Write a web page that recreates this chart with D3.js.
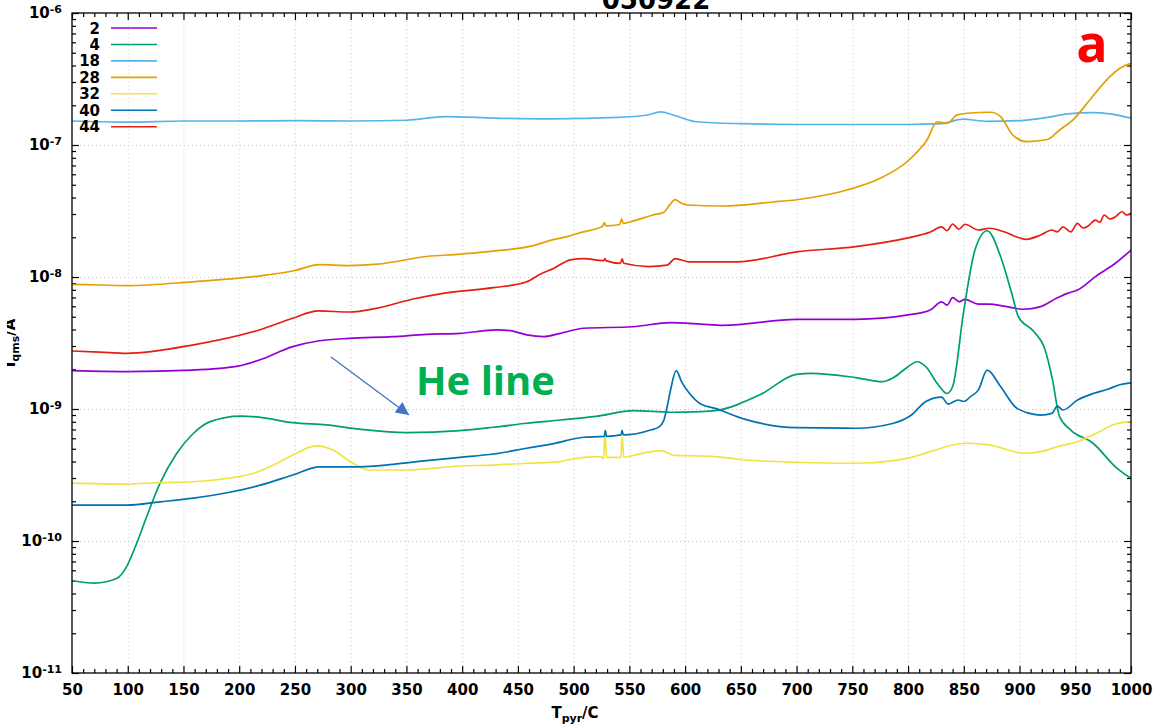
<!DOCTYPE html>
<html><head><meta charset="utf-8">
<script src="https://cdn.jsdelivr.net/npm/d3@7"></script>
<style>body{margin:0;background:#fff}svg{display:block}</style>
</head><body><svg id="c" width="1155" height="727"></svg>
<script>
const seriesNames = ["2","4","18","28","32","40","44"];
const seriesColors = ["#9400d3","#009e73","#56b4e9","#e69f00","#f0e442","#0072b2","#e51e10"];
const xTickValues = [50,100,150,200,250,300,350,400,450,500,550,600,650,700,750,800,850,900,950,1000];
const yDecades = [1e-11,1e-10,1e-9,1e-8,1e-7,1e-6];
const titleText = "050922";

// [T_pyr (C), I_qms (A)]
const data2 = [[50,1.95e-9],[99,1.92e-9],[158,1.97e-9],[200,2.12e-9],[218,2.35e-9],[248,2.97e-9],[272,3.29e-9],[299,3.43e-9],[338,3.53e-9],[368,3.68e-9],[398,3.74e-9],[431,3.97e-9],[443,3.93e-9],[458,3.64e-9],[473,3.53e-9],[488,3.74e-9],[509,4.09e-9],[553,4.2e-9],[587,4.51e-9],[614,4.4e-9],[634,4.3e-9],[700,4.78e-9],[753,4.78e-9],[800,5.16e-9],[820,5.63e-9],[830,6.49e-9],[835,6.13e-9],[840,6.97e-9],[846,6.49e-9],[851,6.77e-9],[863,6.24e-9],[873,6.24e-9],[886,6.02e-9],[903,5.7e-9],[919,5.96e-9],[933,6.89e-9],[943,7.52e-9],[952,7.96e-9],[969,1.02e-8],[986,1.27e-8],[1000,1.6e-8]];
const data4 = [[50,5.0e-11],[70,4.8e-11],[90,5.2e-11],[99,6.4e-11],[108,9.6e-11],[117,1.53e-10],[129,2.74e-10],[144,4.62e-10],[159,6.55e-10],[174,8.02e-10],[201,8.84e-10],[219,8.65e-10],[248,7.88e-10],[278,7.57e-10],[308,7.03e-10],[350,6.62e-10],[398,6.85e-10],[428,7.27e-10],[458,7.8e-10],[488,8.25e-10],[520,8.8e-10],[554,9.71e-10],[587,9.45e-10],[614,9.54e-10],[627,9.71e-10],[667,1.28e-9],[700,1.83e-9],[713,1.86e-9],[753,1.73e-9],[777,1.61e-9],[787,1.73e-9],[800,2.09e-9],[808,2.28e-9],[816,2.09e-9],[826,1.57e-9],[835,1.31e-9],[840,1.48e-9],[850,5.56e-9],[860,1.6e-8],[871,2.24e-8],[883,1.43e-8],[893,7.52e-9],[899,5.0e-9],[913,3.85e-9],[923,2.8e-9],[929,1.76e-9],[936,8.74e-10],[946,6.93e-10],[966,5.5e-10],[986,3.65e-10],[1000,2.98e-10]];
const data18 = [[50,1.52e-7],[100,1.49e-7],[150,1.52e-7],[200,1.52e-7],[250,1.53e-7],[300,1.52e-7],[350,1.54e-7],[385,1.64e-7],[430,1.6e-7],[480,1.58e-7],[540,1.62e-7],[565,1.68e-7],[578,1.78e-7],[590,1.68e-7],[610,1.5e-7],[650,1.45e-7],[700,1.43e-7],[750,1.43e-7],[800,1.43e-7],[830,1.45e-7],[849,1.57e-7],[871,1.51e-7],[900,1.53e-7],[925,1.62e-7],[943,1.72e-7],[966,1.76e-7],[981,1.72e-7],[1000,1.6e-7]];
const data28 = [[50,8.8e-9],[75,8.7e-9],[100,8.6e-9],[158,9.2e-9],[219,1.02e-8],[250,1.12e-8],[272,1.24e-8],[299,1.22e-8],[324,1.25e-8],[368,1.43e-8],[398,1.49e-8],[428,1.57e-8],[464,1.73e-8],[481,1.91e-8],[494,2.02e-8],[506,2.17e-8],[526,2.42e-8],[527.5,2.58e-8],[529,2.44e-8],[541.5,2.5e-8],[543,2.76e-8],[544.5,2.55e-8],[553,2.65e-8],[571,2.95e-8],[581,3.1e-8],[586,3.5e-8],[591,3.85e-8],[596,3.65e-8],[602,3.51e-8],[634,3.45e-8],[679,3.7e-8],[700,3.85e-8],[715,4.02e-8],[745,4.56e-8],[775,5.59e-8],[804,8.15e-8],[817,1.09e-7],[826,1.5e-7],[835,1.46e-7],[844,1.69e-7],[853,1.74e-7],[874,1.77e-7],[883,1.64e-7],[894,1.19e-7],[907,1.06e-7],[925,1.1e-7],[936,1.3e-7],[948,1.55e-7],[963,2.19e-7],[978,3.1e-7],[990,3.81e-7],[1000,4.16e-7]];
const data32 = [[50,2.74e-10],[99,2.7e-10],[129,2.77e-10],[159,2.81e-10],[189,2.98e-10],[213,3.26e-10],[234,3.88e-10],[248,4.48e-10],[269,5.25e-10],[284,4.89e-10],[302,3.88e-10],[317,3.45e-10],[350,3.45e-10],[398,3.7e-10],[428,3.76e-10],[458,3.88e-10],[488,3.99e-10],[494,4.11e-10],[524,4.35e-10],[527,4.2e-10],[528,6.93e-10],[529.5,4.3e-10],[542.5,4.3e-10],[543.5,6.17e-10],[545,4.3e-10],[548,4.35e-10],[579,4.83e-10],[590,4.45e-10],[620,4.4e-10],[654,4.11e-10],[700,3.95e-10],[753,3.88e-10],[787,4.06e-10],[803,4.3e-10],[820,4.75e-10],[840,5.34e-10],[853,5.5e-10],[873,5.34e-10],[890,4.89e-10],[903,4.62e-10],[919,4.75e-10],[936,5.25e-10],[952,5.65e-10],[969,6.55e-10],[986,7.69e-10],[1000,8.02e-10]];
const data40 = [[50,1.87e-10],[99,1.87e-10],[129,1.98e-10],[159,2.11e-10],[189,2.32e-10],[219,2.65e-10],[248,3.16e-10],[272,3.65e-10],[308,3.65e-10],[338,3.81e-10],[368,4.06e-10],[398,4.3e-10],[428,4.56e-10],[458,5.04e-10],[482,5.47e-10],[509,6.11e-10],[527.5,6.2e-10],[528.5,6.85e-10],[529.5,6.2e-10],[542.5,6.36e-10],[543.5,6.9e-10],[544.5,6.36e-10],[569,6.93e-10],[577,7.35e-10],[581,8.25e-10],[584,1.05e-9],[587,1.4e-9],[592,1.95e-9],[597,1.6e-9],[604,1.31e-9],[614,1.09e-9],[627,1.01e-9],[654,8.35e-10],[700,7.22e-10],[753,7.15e-10],[787,7.8e-10],[803,9.0e-10],[816,1.14e-9],[830,1.23e-9],[836,1.09e-9],[845,1.17e-9],[850,1.14e-9],[856,1.24e-9],[863,1.39e-9],[871,1.97e-9],[883,1.48e-9],[896,1.04e-9],[909,9.27e-10],[919,9.0e-10],[929,9.27e-10],[934,1.05e-9],[939,9.83e-10],[952,1.17e-9],[966,1.31e-9],[979,1.41e-9],[989,1.52e-9],[1000,1.58e-9]];
const data44 = [[50,2.75e-9],[75,2.7e-9],[99,2.64e-9],[158,3.05e-9],[218,3.97e-9],[248,4.87e-9],[271,5.53e-9],[299,5.43e-9],[323,5.79e-9],[356,6.81e-9],[383,7.52e-9],[428,8.3e-9],[458,9.2e-9],[470,1.05e-8],[482,1.16e-8],[497,1.35e-8],[509,1.38e-8],[527,1.33e-8],[528,1.38e-8],[529,1.33e-8],[542,1.27e-8],[543.5,1.37e-8],[545,1.27e-8],[567,1.2e-8],[584,1.23e-8],[591,1.38e-8],[604,1.3e-8],[647,1.3e-8],[700,1.55e-8],[753,1.7e-8],[800,1.98e-8],[820,2.19e-8],[830,2.4e-8],[835,2.24e-8],[840,2.52e-8],[845.6,2.3e-8],[851,2.51e-8],[863,2.27e-8],[873,2.34e-8],[886,2.2e-8],[906,1.93e-8],[919,2.08e-8],[929,2.27e-8],[934,2.2e-8],[939,2.4e-8],[946,2.2e-8],[952,2.55e-8],[957,2.35e-8],[962,2.45e-8],[968,2.7e-8],[972,2.6e-8],[976,2.95e-8],[981,2.75e-8],[986,2.86e-8],[992,3.12e-8],[996,2.95e-8],[1000,3.04e-8]];
const seriesData = [data2,data4,data18,data28,data32,data40,data44];

const svg = d3.select("#c");
const L=72, R=1131, T=13, B=673;
const x = d3.scaleLinear().domain([50,1000]).range([L,R]);
const y = d3.scaleLog().domain([1e-11,1e-6]).range([B,T]);
const FONT = "'DejaVu Sans', sans-serif";

// grid
const grid = svg.append("g").attr("stroke","#c8c8c8").attr("stroke-width",1).attr("stroke-dasharray","1,3");
grid.selectAll("line.gx").data(xTickValues.filter(v=>v>50&&v<1000)).join("line")
  .attr("x1",d=>x(d)+0.5).attr("x2",d=>x(d)+0.5).attr("y1",T).attr("y2",B);
grid.selectAll("line.gy").data(yDecades.filter(v=>v>1e-11&&v<1e-6)).join("line")
  .attr("y1",d=>Math.round(y(d))+0.5).attr("y2",d=>Math.round(y(d))+0.5).attr("x1",L).attr("x2",R);

// minor tick values
const xMinor = d3.range(50,1001,10).filter(v=>v%50!==0);
const yMinor = [];
yDecades.slice(0,-1).forEach(d=>{for(let k=2;k<=9;k++) yMinor.push(d*k);});

function styleAxis(g){ g.select(".domain").remove(); g.selectAll("line").attr("stroke","#000").attr("stroke-width",1.2); }

// bottom
svg.append("g").attr("transform",`translate(0,${B})`)
  .call(d3.axisBottom(x).tickValues(xTickValues).tickSizeInner(-7).tickSizeOuter(0).tickPadding(11).tickFormat(d3.format("d")))
  .call(styleAxis)
  .call(g=>g.selectAll("text").attr("font-family",FONT).attr("font-weight","bold").attr("font-size","15px").attr("fill","#000"));
svg.append("g").attr("transform",`translate(0,${B})`)
  .call(d3.axisBottom(x).tickValues(xMinor).tickSizeInner(-4).tickSizeOuter(0).tickFormat("")).call(styleAxis);
// top
svg.append("g").attr("transform",`translate(0,${T})`)
  .call(d3.axisTop(x).tickValues(xTickValues).tickSizeInner(-7).tickSizeOuter(0).tickFormat("")).call(styleAxis);
svg.append("g").attr("transform",`translate(0,${T})`)
  .call(d3.axisTop(x).tickValues(xMinor).tickSizeInner(-4).tickSizeOuter(0).tickFormat("")).call(styleAxis);
// left
svg.append("g").attr("transform",`translate(${L},0)`)
  .call(d3.axisLeft(y).tickValues(yDecades).tickSizeInner(-7).tickSizeOuter(0).tickPadding(10).tickFormat(()=>""))
  .call(styleAxis)
  .call(g=>g.selectAll(".tick text").each(function(d){
    const t=d3.select(this).attr("font-family",FONT).attr("font-weight","bold").attr("font-size","15px").attr("fill","#000");
    t.append("tspan").text("10");
    t.append("tspan").attr("font-size","11px").attr("dy","-0.45em").text(String(Math.round(Math.log10(d))));
  }));
svg.append("g").attr("transform",`translate(${L},0)`)
  .call(d3.axisLeft(y).tickValues(yMinor).tickSizeInner(-4).tickSizeOuter(0).tickFormat("")).call(styleAxis);
// right
svg.append("g").attr("transform",`translate(${R},0)`)
  .call(d3.axisRight(y).tickValues(yDecades).tickSizeInner(-7).tickSizeOuter(0).tickFormat("")).call(styleAxis);
svg.append("g").attr("transform",`translate(${R},0)`)
  .call(d3.axisRight(y).tickValues(yMinor).tickSizeInner(-4).tickSizeOuter(0).tickFormat("")).call(styleAxis);

// clip
svg.append("clipPath").attr("id","plot").append("rect").attr("x",L).attr("y",T).attr("width",R-L).attr("height",B-T);
const line = d3.line().x(d=>x(d[0])).y(d=>y(d[1])).curve(d3.curveMonotoneX);
svg.append("g").attr("clip-path","url(#plot)").selectAll("path").data(seriesData).join("path")
  .attr("d",line).attr("fill","none").attr("stroke",(d,i)=>seriesColors[i]).attr("stroke-width",1.7).attr("stroke-linejoin","round");

// border
svg.append("rect").attr("x",L).attr("y",T).attr("width",R-L).attr("height",B-T)
  .attr("fill","none").attr("stroke","#000").attr("stroke-width",1.3);

// legend
const leg = svg.append("g");
seriesNames.forEach((n,i)=>{
  const cy = 28 + i*16.45;
  leg.append("text").attr("x",100).attr("y",cy+5.5).attr("text-anchor","end")
    .attr("font-family",FONT).attr("font-weight","bold").attr("font-size","15px").text(n);
  leg.append("line").attr("x1",111).attr("x2",157).attr("y1",cy).attr("y2",cy)
    .attr("stroke",seriesColors[i]).attr("stroke-width",1.6);
});

// title (mostly cut off at the top edge, as in the source image)
svg.append("text").attr("x",656).attr("y",9).attr("text-anchor","middle")
  .attr("font-family",FONT).attr("font-weight","bold").attr("font-size","26px").text(titleText);

// x label
const xl = svg.append("text").attr("x",575).attr("y",718).attr("text-anchor","middle")
  .attr("font-family",FONT).attr("font-weight","bold").attr("font-size","15px");
xl.append("tspan").text("T");
xl.append("tspan").attr("font-size","11px").attr("dy","4").text("pyr");
xl.append("tspan").attr("dy","-4").text("/A".replace("A","C"));

// y label (partly cut at left edge)
svg.append("clipPath").attr("id","ylab").append("rect").attr("x",7).attr("y",0).attr("width",40).attr("height",727);
const ylg = svg.append("g").attr("clip-path","url(#ylab)");
const yl = ylg.append("text").attr("transform","translate(15,343) rotate(-90)").attr("text-anchor","middle")
  .attr("font-family",FONT).attr("font-weight","bold").attr("font-size","15px");
yl.append("tspan").text("I");
yl.append("tspan").attr("font-size","11px").attr("dy","4").text("qms");
yl.append("tspan").attr("dy","-4").text("/A");

// panel letter
svg.append("text").attr("x",1092).attr("y",62).attr("text-anchor","middle")
  .attr("font-family","'Open Sans', sans-serif").attr("font-weight","bold").attr("font-size","52px").attr("fill","#ff0000").text("a");

// He line annotation
svg.append("text").attr("x",416).attr("y",395)
  .attr("font-family","'Open Sans', sans-serif").attr("font-weight","bold").attr("font-size","40px").attr("fill","#00b050").text("He line");
svg.append("defs").append("marker").attr("id","ah").attr("viewBox","0 0 10 10").attr("refX",10).attr("refY",5)
  .attr("markerWidth",16).attr("markerHeight",13).attr("markerUnits","userSpaceOnUse").attr("orient","auto")
  .append("path").attr("d","M0,0 L10,5 L0,10 Z").attr("fill","#4472c4");
svg.append("line").attr("x1",331).attr("y1",357).attr("x2",409).attr("y2",415)
  .attr("stroke","#4472c4").attr("stroke-width",1.3).attr("marker-end","url(#ah)");
</script></body></html>
